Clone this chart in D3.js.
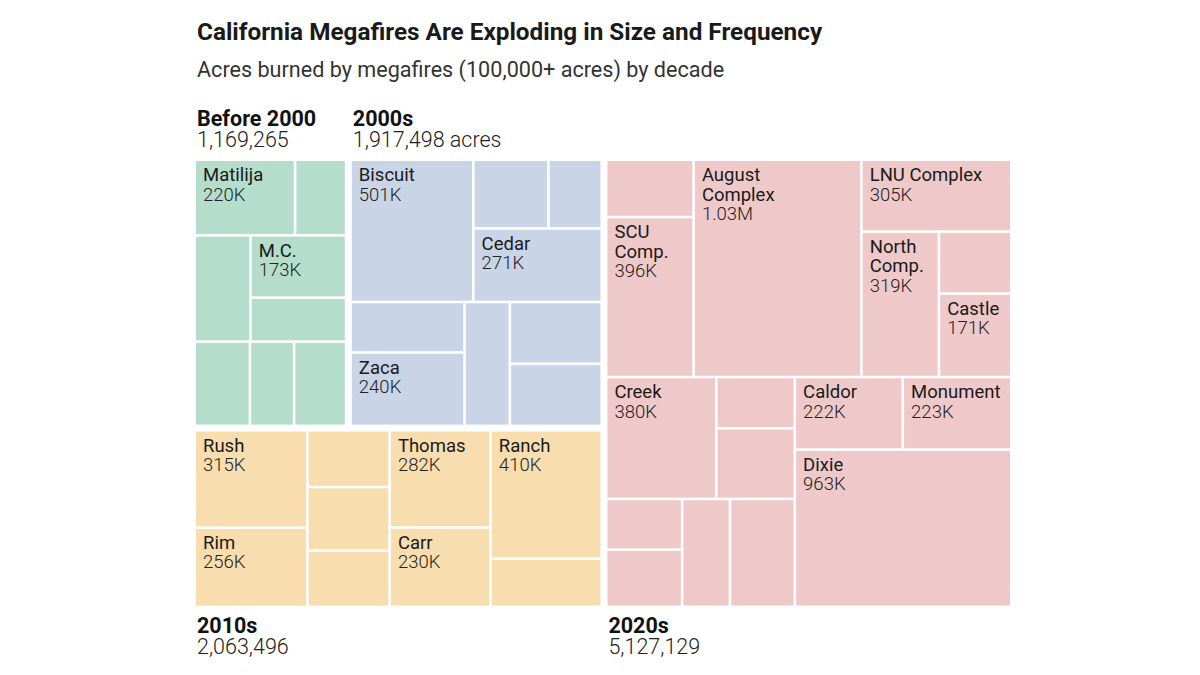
<!DOCTYPE html>
<html>
<head>
<meta charset="utf-8">
<title>California Megafires</title>
<script src="https://cdn.jsdelivr.net/npm/d3@7"></script>
<style>
  html, body { margin: 0; padding: 0; background: #fff; }
  svg { display: block; font-family: Roboto, 'Noto Sans', sans-serif; }
  .title { font-size: 24.3px; font-weight: 700; fill: #1a1a1a; }
  .subtitle { font-size: 21.6px; fill: #333; }
  .decade-name { font-size: 21.5px; font-weight: 700; fill: #111; }
  .decade-total { font-size: 21.5px; font-weight: 300; fill: #222; }
  .fire-name { font-size: 18.5px; fill: #1a1a1a; }
  .fire-acres { font-size: 18.5px; font-weight: 300; fill: #222; }
</style>
</head>
<body>
<svg id="chart" width="1200" height="675"></svg>
<script>
// =============================================================================
// DATA
// =============================================================================

const DECADES = ['Before 2000', '2000s', '2010s', '2020s'];
const TOTAL_SUFFIX = ['', ' acres', '', ''];

// How the decade blocks nest: [[Before 2000, 2000s], 2010s] beside 2020s
const DECADE_BLOCKS = [[[0, 1], 2], 3];

// Blank names are fires the chart leaves unlabeled (acres)
const before2000Names = ['Matilija', '', '', 'M.C.', '', '', '', ''];
const before2000Acres = [220000, 112000, 172000, 173000, 122000, 135000, 108000, 127265];
const before2000Blocks = [[0, 1], [2, [3, 4]], [5, 6, 7]];

const names2000s = ['Biscuit', '', '', 'Cedar', '', 'Zaca', '', '', ''];
const acres2000s = [501000, 148000, 105000, 271000, 165000, 240000, 161000, 163000, 163498];
const blocks2000s = [[0, [[1, 2], 3]], [[4, 5], 6, [7, 8]]];

const names2010s = ['Rush', 'Rim', '', '', '', 'Thomas', 'Carr', 'Ranch', ''];
const acres2010s = [315000, 256000, 134000, 150000, 133000, 282000, 230000, 410000, 153496];
const blocks2010s = [[0, 1], [2, 3, 4], [5, 6], [7, 8]];

const names2020s = ['', 'SCU\nComp.', 'August\nComplex', 'LNU Complex', 'North\nComp.', '', 'Castle',
  'Creek', '', '', '', '', '', '', 'Caldor', 'Monument', 'Dixie'];
const acres2020s = [142000, 396000, 1032000, 305000, 319000, 127000, 171000,
  380000, 114000, 157129, 109000, 123000, 146000, 198000, 222000, 223000, 963000];
const blocks2020s = [[[0, 1], 2, [3, [4, [5, 6]]]], [[[7, [8, 9]], [[10, 11], 12, 13]], [[14, 15], 16]]];

// =============================================================================
// CONSTANTS
// =============================================================================

const COLORS = ['#b4decb', '#c9d4e6', '#f8ddae', '#efc9c9'];

const MAP = { left: 196, top: 161, width: 814, height: 444.5 };
const DECADE_GAP = 7;
const CELL_GAP = 2.6;

const LABEL_X = 7;
const LABEL_Y = 20;
const LINE_HEIGHT = 19.5;

// =============================================================================
// HELPERS
// =============================================================================

const DECADE_FIRES = [
  { names: before2000Names, acres: before2000Acres, blocks: before2000Blocks },
  { names: names2000s, acres: acres2000s, blocks: blocks2000s },
  { names: names2010s, acres: acres2010s, blocks: blocks2010s },
  { names: names2020s, acres: acres2020s, blocks: blocks2020s }
];

/**
 * Turn a nested index list into hierarchy nodes.
 * @param {Array|number} spec - Nested block list or leaf index
 * @param {Function} leaf - Builds the node for a leaf index
 */
function nest(spec, leaf) {
  return Array.isArray(spec) ? { children: spec.map(s => nest(s, leaf)) } : leaf(spec);
}

function formatAcres(v) {
  return v >= 1e6 ? (v / 1e6).toFixed(2) + 'M' : Math.round(v / 1000) + 'K';
}

const formatTotal = d3.format(',');

// =============================================================================
// LAYOUT
// =============================================================================

const rootData = nest(DECADE_BLOCKS, d => {
  const f = DECADE_FIRES[d];
  return {
    isDecade: true,
    decade: d,
    children: f.blocks.map(b => nest(b, i => ({ name: f.names[i], acres: f.acres[i], decade: d })))
  };
});

const root = d3.hierarchy(rootData).sum(d => d.acres || 0);

// slice/dice alternates by depth, which the nested blocks above are built for
d3.treemap()
  .tile(d3.treemapSliceDice)
  .size([MAP.width, MAP.height])
  .paddingInner(n => n.ancestors().some(a => a.data.isDecade) ? CELL_GAP : DECADE_GAP)(root);

// =============================================================================
// RENDER
// =============================================================================

const svg = d3.select('#chart');

svg.append('text').attr('class', 'title').attr('x', 197).attr('y', 39.5)
  .text('California Megafires Are Exploding in Size and Frequency');
svg.append('text').attr('class', 'subtitle').attr('x', 197).attr('y', 76.5)
  .text('Acres burned by megafires (100,000+ acres) by decade');

const g = svg.append('g').attr('transform', `translate(${MAP.left},${MAP.top})`);

const cell = g.selectAll('g.cell')
  .data(root.leaves())
  .join('g')
  .attr('class', 'cell')
  .attr('transform', d => `translate(${d.x0},${d.y0})`);

cell.append('rect')
  .attr('width', d => d.x1 - d.x0)
  .attr('height', d => d.y1 - d.y0)
  .attr('fill', d => COLORS[d.data.decade]);

cell.filter(d => d.data.name).each(function(d) {
  const lines = d.data.name.split('\n');
  const t = d3.select(this).append('text').attr('y', LABEL_Y);
  lines.forEach((line, i) => {
    t.append('tspan').attr('class', 'fire-name')
      .attr('x', LABEL_X).attr('dy', i === 0 ? 0 : LINE_HEIGHT).text(line);
  });
  t.append('tspan').attr('class', 'fire-acres')
    .attr('x', LABEL_X).attr('dy', LINE_HEIGHT).text(formatAcres(d.value));
});

// Decade headers: above the block if it sits in the top row, below otherwise
const decadeNodes = root.descendants().filter(n => n.data.isDecade);
decadeNodes.forEach(n => {
  const below = n.y1 > MAP.height - 1;
  const x = n.x0 + 1;
  const yName = below ? n.y1 + 27 : n.y0 - 35;
  const yTotal = below ? n.y1 + 48.5 : n.y0 - 14;
  g.append('text').attr('class', 'decade-name').attr('x', x).attr('y', yName)
    .text(DECADES[n.data.decade]);
  g.append('text').attr('class', 'decade-total').attr('x', x).attr('y', yTotal)
    .text(formatTotal(n.value) + TOTAL_SUFFIX[n.data.decade]);
});
</script>
</body>
</html>
